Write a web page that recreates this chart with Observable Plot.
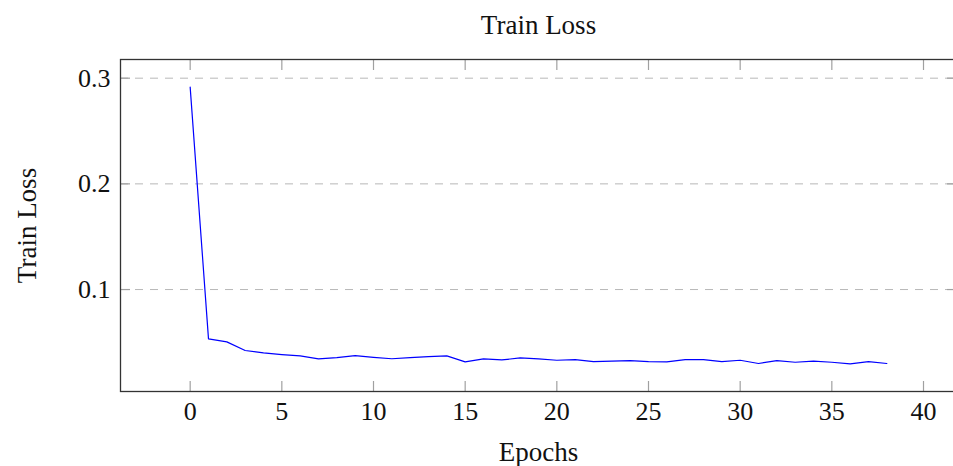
<!DOCTYPE html>
<html>
<head>
<meta charset="utf-8">
<script src="https://cdn.jsdelivr.net/npm/d3@7"></script>
<script src="https://cdn.jsdelivr.net/npm/@observablehq/plot@0.6"></script>
<style>
  html, body { margin: 0; padding: 0; background: #fff; overflow: hidden; }
  svg { display: block; }
</style>
</head>
<body>
<div id="chart"></div>
<script>
const title = "Train Loss";
const xLabel = "Epochs";
const yLabel = "Train Loss";
const epochs = [0,1,2,3,4,5,6,7,8,9,10,11,12,13,14,15,16,17,18,19,20,21,22,23,24,25,26,27,28,29,30,31,32,33,34,35,36,37,38];
const loss = [0.2915,0.0533,0.0505,0.0423,0.0400,0.0385,0.0372,0.0344,0.0356,0.0375,
              0.0359,0.0345,0.0356,0.0365,0.0372,0.0316,0.0344,0.0334,0.0353,0.0344,
              0.0331,0.0337,0.0318,0.0322,0.0328,0.0318,0.0316,0.0337,0.0337,0.0318,
              0.0331,0.0300,0.0328,0.0312,0.0322,0.0312,0.0297,0.0318,0.0300];
const xTicks = [0,5,10,15,20,25,30,35,40];
const yTicks = [0.1,0.2,0.3];

const data = epochs.map((e, i) => ({epoch: e, loss: loss[i]}));
const [x0, x1] = d3.extent(epochs);
const [y0, y1] = d3.extent(loss);
const enlarge = 0.1;
const xDomain = [x0 - enlarge * (x1 - x0), x1 + enlarge * (x1 - x0)];
const yDomain = [y0 - enlarge * (y1 - y0), y1 + enlarge * (y1 - y0)];

const font = "'Liberation Serif', 'Times New Roman', serif";
const fs = 26;
const fsLabel = 27;
const tickOpts = {tickSize: -10, fill: "none", stroke: "#a0a0a0", strokeWidth: 1.2, label: null};
const labelOpts = {tickSize: 0, tickPadding: 10, label: null, fontSize: fs, fontFamily: font, fill: "#111"};
const textOpts = {textAnchor: "middle", lineAnchor: "middle", text: d => d, fontSize: fsLabel, fontFamily: font, fill: "#111"};

const chart = Plot.plot({
  width: 953,
  height: 466,
  marginLeft: 120,
  marginRight: -3,
  marginTop: 59,
  marginBottom: 75,
  style: {fontFamily: font, fontSize: fs + "px", color: "#111", background: "#fff"},
  x: {domain: xDomain, ticks: xTicks},
  y: {domain: yDomain, ticks: yTicks},
  marks: [
    Plot.gridY(yTicks, {stroke: "#b8b8b8", strokeOpacity: 1, strokeDasharray: "8,7", strokeWidth: 1}),
    // inward ticks
    Plot.axisX(xTicks, {anchor: "bottom", ...tickOpts}),
    Plot.axisX(xTicks, {anchor: "top", ...tickOpts}),
    Plot.axisY(yTicks, {anchor: "left", ...tickOpts}),
    Plot.axisY(yTicks, {anchor: "right", ...tickOpts}),
    // tick labels
    Plot.axisX(xTicks, {anchor: "bottom", ...labelOpts}),
    Plot.axisY(yTicks, {anchor: "left", ...labelOpts, tickFormat: d3.format(".1f")}),
    Plot.frame({stroke: "#333", strokeWidth: 1.3}),
    Plot.line(data, {x: "epoch", y: "loss", stroke: "#0000ff", strokeWidth: 1.2}),
    Plot.text([title], {frameAnchor: "top", dy: -34.5, ...textOpts}),
    Plot.text([xLabel], {frameAnchor: "bottom", dy: 60.5, ...textOpts}),
    Plot.text([yLabel], {frameAnchor: "left", dx: -93, rotate: -90, ...textOpts})
  ]
});
document.getElementById("chart").appendChild(chart);
</script>
</body>
</html>
